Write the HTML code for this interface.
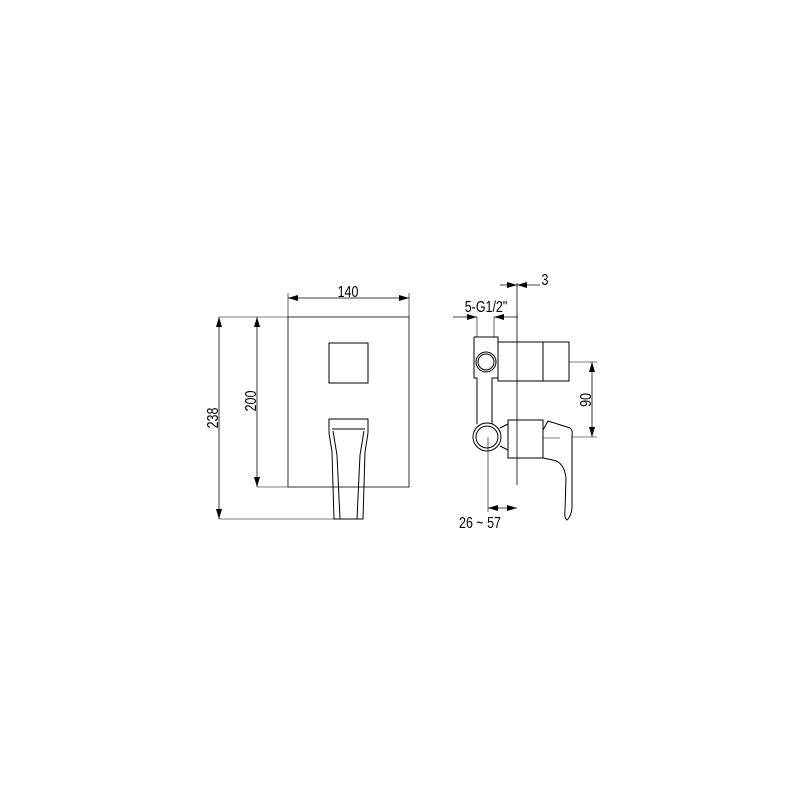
<!DOCTYPE html>
<html><head><meta charset="utf-8"><style>html,body{margin:0;padding:0;background:#fff}svg{display:block}</style></head>
<body>
<svg width="800" height="800" viewBox="0 0 800 800" xmlns="http://www.w3.org/2000/svg">
<defs>
<marker id="a" viewBox="0 0 10 6" refX="10" refY="3" markerWidth="10" markerHeight="6" orient="auto-start-reverse" markerUnits="userSpaceOnUse"><path d="M0,0L10,3L0,6z" fill="#000"/></marker>
</defs>
<g fill="none" stroke="#000" stroke-width="1">
<rect x="288" y="317" width="121" height="170" stroke-width="0.8"/>
<rect x="329" y="343" width="39" height="40"/>
<path d="M329,419 L368,419 L368,433 L365,452 L363,519 L334,519 L332,452 L329,433 Z"/>
<path d="M332,429 L365,429 M333,431 L337,455 L340,519 M364,431 L360,455 L357,519"/>
<line x1="288" y1="298" x2="409" y2="298" marker-start="url(#a)" marker-end="url(#a)" stroke-width="0.8"/>
<line x1="288" y1="293" x2="288" y2="317" stroke-width="0.6"/>
<line x1="409" y1="293" x2="409" y2="317" stroke-width="0.6"/>
<line x1="219" y1="317" x2="288" y2="317" stroke-width="0.6"/>
<line x1="219" y1="519" x2="334" y2="519" stroke-width="0.6"/>
<line x1="257" y1="487" x2="288" y2="487" stroke-width="0.6"/>
<line x1="219" y1="317" x2="219" y2="519" marker-start="url(#a)" marker-end="url(#a)" stroke-width="0.8"/>
<line x1="257" y1="317" x2="257" y2="487" marker-start="url(#a)" marker-end="url(#a)" stroke-width="0.8"/>
<line x1="517" y1="283" x2="517" y2="485" stroke-width="0.8"/>
<line x1="500" y1="285" x2="517" y2="285" marker-end="url(#a)" stroke-width="0.8"/>
<line x1="540" y1="285" x2="517" y2="285" marker-end="url(#a)" stroke-width="0.8"/>
<line x1="453" y1="317" x2="477" y2="317" marker-end="url(#a)" stroke-width="0.8"/>
<line x1="518" y1="317" x2="494" y2="317" marker-end="url(#a)" stroke-width="0.8"/>
<line x1="477" y1="317" x2="477" y2="337" stroke-width="0.6"/>
<line x1="494" y1="317" x2="494" y2="337" stroke-width="0.6"/>
<path d="M474,337 L498,337 L498,378 L492,378 L492,424 M474,337 L474,378 L477,378 L477,424"/>
<circle cx="486" cy="362" r="10"/><circle cx="486" cy="362" r="8"/>
<rect x="498" y="342" width="71" height="39"/>
<line x1="543" y1="342" x2="543" y2="381"/>
<circle cx="487" cy="437" r="14"/><circle cx="487" cy="437" r="11"/>
<path d="M500,428 L508,424 M500,446 L508,450"/>
<rect x="508" y="420" width="35" height="38"/>
<path d="M543,430 L548,421 L570,428 Q573,430 572,436 L572,508 Q571,517 567,520 Q564,518 565,510 L566,478 Q564,462 553,460 L543,458"/>
<line x1="543" y1="438" x2="560" y2="438" stroke-width="0.6"/>
<line x1="569" y1="362" x2="597" y2="362" stroke-width="0.6"/>
<line x1="572" y1="437" x2="597" y2="437" stroke-width="0.6"/>
<line x1="592" y1="362" x2="592" y2="437" marker-start="url(#a)" marker-end="url(#a)" stroke-width="0.8"/>
<line x1="488" y1="437" x2="488" y2="512" stroke-width="0.6"/>
<line x1="488" y1="508" x2="517" y2="508" marker-start="url(#a)" marker-end="url(#a)" stroke-width="0.8"/>
</g>
<g font-family="Liberation Sans, sans-serif" font-size="16" fill="#000">
<text transform="translate(348,297) scale(0.78,1)" text-anchor="middle">140</text>
<text transform="translate(218,418) rotate(-90) scale(0.78,1)" text-anchor="middle">238</text>
<text transform="translate(256,401) rotate(-90) scale(0.78,1)" text-anchor="middle">200</text>
<text transform="translate(545,285) scale(0.78,1)" text-anchor="middle">3</text>
<text transform="translate(486,312) scale(0.78,1)" text-anchor="middle">5-G1/2"</text>
<text transform="translate(591,400) rotate(-90) scale(0.78,1)" text-anchor="middle">90</text>
<text transform="translate(480,528) scale(0.78,1)" text-anchor="middle">26 ~ 57</text>
</g>
</svg>
</body></html>
